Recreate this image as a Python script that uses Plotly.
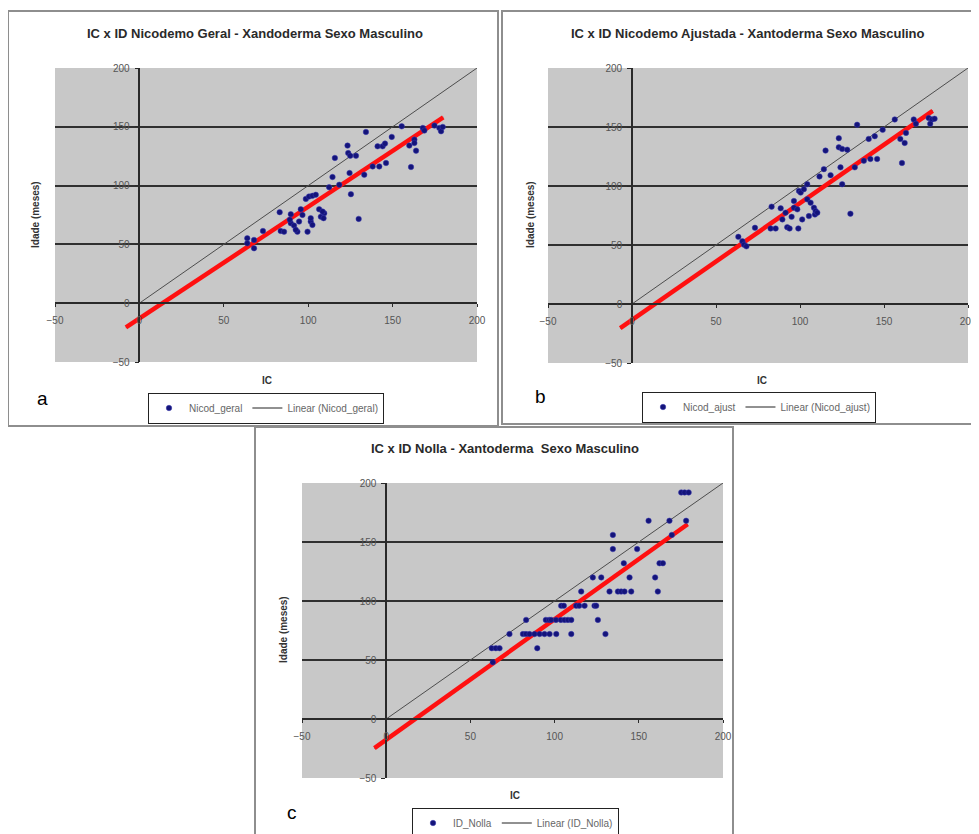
import plotly.graph_objects as go

# ---------------- data ----------------
# Panel a: IC x ID Nicodemo Geral
a_ic = [63.9, 67.9, 63.9, 67.9, 73.2, 83.1, 83.7, 85.7, 89.7, 89.7, 91.6, 93.6, 94.6, 95.6,
        96.6, 99.6, 98.6, 100.5, 102.5, 104.5, 101.5, 102.5, 106.5, 107.5, 109.5, 109.1,
        101.5, 108.5, 112.4, 114.4, 115.8, 118.4, 123.3, 123.7, 124.9, 124.5, 125.3, 128.3,
        129.9, 133.2, 134.2, 138.2, 141.1, 142.1, 144.1, 145.5, 146.1, 149.5, 155.4, 159.9,
        160.9, 162.9, 163.9, 162.9, 167.9, 168.8, 174.8, 177.7, 178.7, 179.7, 89.1, 92.6]
a_id = [55.2, 53.8, 50.9, 46.7, 61.4, 77.4, 61.4, 60.8, 75.7, 68.0, 66.0, 60.8, 69.4, 79.9,
        75.1, 60.8, 88.7, 90.7, 91.3, 92.2, 69.4, 66.6, 79.9, 73.6, 76.5, 72.3,
        72.3, 77.9, 98.7, 107.3, 123.5, 100.7, 134.0, 127.7, 125.4, 110.7, 92.7, 125.4,
        71.7, 109.2, 145.6, 116.3, 133.4, 116.3, 133.4, 135.7, 119.2, 141.4, 150.4, 134.0,
        115.8, 139.1, 129.7, 136.2, 149.0, 146.8, 151.0, 149.0, 146.2, 149.9, 71.0, 62.5]

# Panel b: IC x ID Nicodemo Ajustada
b_ic = [63.3, 65.7, 66.7, 68.1, 73.2, 83.1, 82.5, 85.5, 88.5, 89.5, 91.4, 92.4, 93.8, 95.0,
        96.4, 96.4, 98.4, 99.0, 99.4, 100.4, 101.3, 102.3, 104.3, 104.3, 105.3, 106.3, 108.3,
        108.9, 109.3, 110.3, 111.6, 114.2, 115.2, 118.2, 123.1, 123.1, 125.1, 124.1, 125.1,
        128.1, 130.0, 132.6, 134.0, 138.0, 140.9, 141.9, 144.5, 145.9, 149.2, 156.4, 159.7,
        160.7, 162.3, 163.1, 167.7, 169.0, 176.6, 178.5, 177.5, 180.1]
b_id = [56.9, 53.2, 50.3, 48.9, 64.6, 82.5, 64.0, 64.0, 81.1, 71.7, 77.4, 65.1, 64.0, 73.9,
        87.3, 81.6, 80.2, 64.0, 95.8, 94.4, 71.7, 97.3, 101.5, 88.7, 74.5, 85.9, 81.6,
        75.9, 78.8, 77.4, 108.1, 114.3, 130.0, 109.2, 140.5, 132.8, 131.4, 115.8, 101.5,
        130.8, 76.5, 115.8, 151.9, 121.4, 139.9, 122.9, 142.2, 122.9, 147.6, 156.4, 139.9,
        119.5, 136.5, 145.0, 156.4, 152.7, 157.6, 156.4, 152.7, 157.0]

# Panel c: IC x ID Nolla
c_ic = [175.2, 177.2, 179.6,
        155.8, 168.2, 178.1,
        134.6, 169.6,
        134.6, 149.0,
        141.1, 162.3, 164.3,
        122.7, 127.7, 144.5, 159.7,
        115.8, 132.6, 137.6, 139.5, 141.5, 145.5, 161.3,
        103.9, 105.5, 112.8, 114.6, 117.8, 123.7, 124.7,
        83.1, 94.8, 96.8, 98.0, 100.8, 103.7, 105.9, 107.9, 109.9, 125.7,
        73.2, 81.2, 83.0, 85.1, 88.1, 91.1, 94.0, 97.0, 101.0, 109.9, 130.2,
        62.7, 65.1, 67.3, 89.7,
        63.3]
c_id = [192, 192, 192,
        168, 168, 168,
        156, 156,
        144, 144,
        132, 132, 132,
        120, 120, 120, 120,
        108, 108, 108, 108, 108, 108, 108,
        96, 96, 96, 96, 96, 96, 96,
        84, 84, 84, 84, 84, 84, 84, 84, 84, 84,
        72, 72, 72, 72, 72, 72, 72, 72, 72, 72, 72,
        60, 60, 60, 60,
        48]

# fitted (red) lines: slope, intercept, and x span
fit_a = [0.95, -13.0]
fit_b = [0.99, -13.5]
fit_c = [1.02, -17.5]
span_a = [-8, 180]
span_b = [-7, 179]
span_c = [-7, 179]
ideal = [0, 200]  # reference line y = x

axis_range = [-50, 200]
tick_vals = [-50, 0, 50, 100, 150, 200]

titles = ["IC x ID Nicodemo Geral - Xandoderma Sexo Masculino",
          "IC x ID Nicodemo Ajustada - Xantoderma Sexo Masculino",
          "IC x ID Nolla - Xantoderma  Sexo Masculino"]
series_names = ["Nicod_geral", "Nicod_ajust", "ID_Nolla"]
letters = ["a", "b", "c"]

# ---------------- layout geometry (pixels in the page) ----------------
W, H = 979, 834
OFF = 8  # page body margin
FONT = "Liberation Sans, Arial, sans-serif"


def px(x):
    return (x - OFF) / W


def py(y):
    return 1 - (y - OFF) / H


panels = [
    dict(x=a_ic, y=a_id, fit=fit_a, span=span_a,
         plot=(55, 68, 477, 362), frame=(8, 11, 498, 426),
         title=(255, 33), xt=(267, 380), yt=(35, 215), legend=(148, 408), letter=(42, 398)),
    dict(x=b_ic, y=b_id, fit=fit_b, span=span_b,
         plot=(548, 68, 968, 363), frame=(502, 11, 976, 424),
         title=(748, 33), xt=(762, 380), yt=(530, 215), legend=(642, 407), letter=(540, 396)),
    dict(x=c_ic, y=c_id, fit=fit_c, span=span_c,
         plot=(302, 483, 723, 778), frame=(255, 427, 733, 840),
         title=(505, 448), xt=(515, 795), yt=(283, 630), legend=(412, 823), letter=(292, 812)),
]

fig = go.Figure()
layout = dict(
    width=W, height=H, margin=dict(l=0, r=0, t=0, b=0, autoexpand=False),
    paper_bgcolor="white", plot_bgcolor="#c8c8c8",
    showlegend=True, font=dict(family=FONT, color="#333"),
)
annotations = []
shapes = []

for i, p in enumerate(panels):
    n = "" if i == 0 else str(i + 1)
    xa, ya = "x" + n, "y" + n
    leg = "legend" + n
    x0, y0, x1, y1 = p["plot"]
    xd = [px(x0), px(x1)]
    yd = [py(y1), py(y0)]
    frac0 = (0 - axis_range[0]) / (axis_range[1] - axis_range[0])
    xpos = yd[0] + frac0 * (yd[1] - yd[0])   # x axis sits on y = 0
    ypos = xd[0] + frac0 * (xd[1] - xd[0])   # y axis sits on x = 0

    layout["xaxis" + n] = dict(
        domain=xd, range=axis_range, anchor="free", position=xpos,
        tickvals=tick_vals, showgrid=False, zeroline=False,
        showline=True, linecolor="#2a2a2a", linewidth=1.6,
        ticks="outside", ticklen=3, tickcolor="#2a2a2a",
        ticklabelstandoff=5, tickfont=dict(size=10, color="#555"),
    )
    layout["yaxis" + n] = dict(
        domain=yd, range=axis_range, anchor="free", position=ypos,
        tickvals=tick_vals, showgrid=True, gridcolor="#303030", gridwidth=1.7,
        zeroline=False, showline=True, linecolor="#2a2a2a", linewidth=1.6,
        ticks="outside", ticklen=4, tickcolor="#2a2a2a",
        ticklabelstandoff=3, tickfont=dict(size=10, color="#555"),
    )

    # reference y = x line
    fig.add_trace(go.Scatter(x=ideal, y=ideal, mode="lines", xaxis=xa, yaxis=ya,
                             line=dict(color="#4d4d4d", width=1), showlegend=False,
                             hoverinfo="skip"))
    slope, icpt = p["fit"]
    fy = [slope * v + icpt for v in p["span"]]
    # linear trend (legend entry) + red emphasis on top
    fig.add_trace(go.Scatter(x=p["span"], y=fy, mode="lines", xaxis=xa, yaxis=ya,
                             name="Linear (" + series_names[i] + ")", legend=leg,
                             legendrank=2, line=dict(color="#222", width=1)))
    fig.add_trace(go.Scatter(x=p["span"], y=fy, mode="lines", xaxis=xa, yaxis=ya,
                             line=dict(color="#ff1010", width=4.5), showlegend=False))
    fig.add_trace(go.Scatter(x=p["x"], y=p["y"], mode="markers", xaxis=xa, yaxis=ya,
                             name=series_names[i], legend=leg, legendrank=1,
                             marker=dict(color="#14147a", size=5.5,
                                         line=dict(color="#3a3ab0", width=0.5))))

    lx, ly = p["legend"]
    layout[leg] = dict(
        x=px(lx), y=py(ly), xanchor="left", yanchor="middle", orientation="h",
        bgcolor="white", bordercolor="#222", borderwidth=1,
        font=dict(size=10, color="#666", family=FONT), itemwidth=30,
        tracegroupgap=0,
    )

    fx0, fy0, fx1, fy1 = p["frame"]
    shapes.append(dict(type="rect", xref="paper", yref="paper",
                       x0=px(fx0), x1=px(fx1), y0=py(fy1), y1=py(fy0),
                       line=dict(color="#8e8e8e", width=2), layer="below"))

    tx, ty = p["title"]
    annotations.append(dict(text="<b>" + titles[i] + "</b>", x=px(tx), y=py(ty),
                            xref="paper", yref="paper", showarrow=False,
                            xanchor="center", yanchor="middle",
                            font=dict(size=13, color="#2a2a2a", family=FONT)))
    ax_, ay_ = p["xt"]
    annotations.append(dict(text="<b>IC</b>", x=px(ax_), y=py(ay_), xref="paper",
                            yref="paper", showarrow=False, xanchor="center",
                            yanchor="middle",
                            font=dict(size=10, color="#333", family=FONT)))
    bx, by = p["yt"]
    annotations.append(dict(text="<b>Idade (meses)</b>", x=px(bx), y=py(by), xref="paper",
                            yref="paper", showarrow=False, textangle=-90,
                            xanchor="center", yanchor="middle",
                            font=dict(size=10, color="#333", family=FONT)))
    cx, cy = p["letter"]
    annotations.append(dict(text=letters[i], x=px(cx), y=py(cy), xref="paper",
                            yref="paper", showarrow=False, xanchor="center",
                            yanchor="middle",
                            font=dict(size=19, color="#000", family=FONT)))

layout["annotations"] = annotations
layout["shapes"] = shapes
fig.update_layout(**layout)
fig.write_html("out.html")
